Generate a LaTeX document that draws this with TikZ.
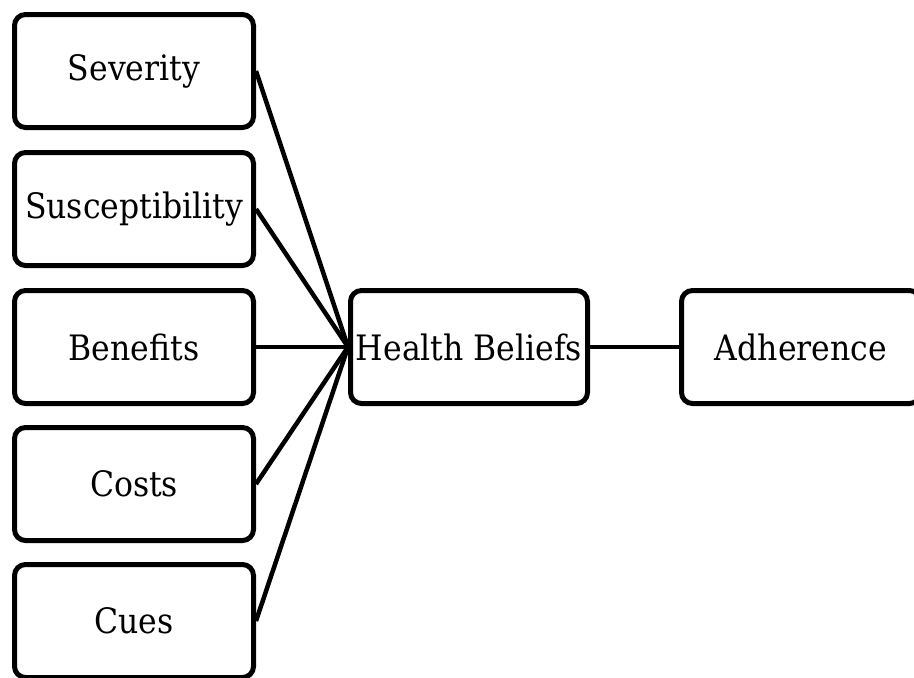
\documentclass[tikz,border=0pt]{standalone}
\usepackage{fontspec}
\setmainfont{DejaVu Serif Condensed}
\begin{document}
\begin{tikzpicture}[x=1pt,y=-1pt,
  factor/.style={draw=black, line width=5pt, rounded corners=11pt,
    minimum width=239pt, minimum height=113pt, inner sep=0pt,
    font=\fontsize{35}{40}\selectfont},
  link/.style={line width=4.5pt}]
\useasboundingbox (0,0) rectangle (914,678);
\node[factor] (sev) at (134,71) {Severity};
\node[factor] (sus) at (134,209) {Susceptibility};
\node[factor] (ben) at (134,347) {Benefits};
\node[factor] (cos) at (134,484) {Costs};
\node[factor] (cue) at (134,621) {Cues};
\node[factor, minimum width=237pt] (hb) at (469,347) {Health Beliefs};
\node[factor] (adh) at (801,347) {Adherence};
\foreach \n in {sev,sus,ben,cos,cue}
  \draw[link] (\n.east) -- (hb.west);
\draw[link] (hb.east) -- (adh.west);
\end{tikzpicture}
\end{document}
